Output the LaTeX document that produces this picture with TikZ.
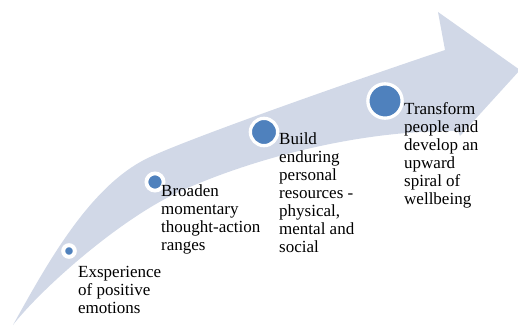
\documentclass[tikz,border=0pt]{standalone}
\usepackage{fontspec}
\setmainfont{Liberation Serif}
\definecolor{bandc}{HTML}{D1D8E7}
\definecolor{dotc}{HTML}{4F81BD}
\begin{document}
\begin{tikzpicture}[x=1pt,y=-1pt,
  dot/.style={circle,fill=dotc,draw=white,inner sep=0pt},
  lbl/.style={anchor=north west,inner sep=0pt,align=left,font=\fontsize{17}{18}\selectfont}]
\useasboundingbox (0,0) rectangle (518,326);
\fill[bandc] (13,325) .. controls (48,262) and (91,184) .. (150,157)
  .. controls (195,136) and (370,75) .. (445,50)
  -- (438,12) -- (520,70) -- (460,136) -- (458,131)
  .. controls (360,130) and (255,158) .. (183,190)
  .. controls (120,218) and (40,290) .. (13,325) -- cycle;
\node[dot,minimum size=11.6pt,line width=4pt] (c1) at (69,251) {};
\node[dot,minimum size=17.2pt,line width=3.8pt] (c2) at (155,182) {};
\node[dot,minimum size=27.3pt,line width=3.3pt] (c3) at (264,132) {};
\node[dot,minimum size=34.3pt,line width=3.3pt] (c4) at (385,101) {};
\node[lbl] (t1) at (78,266) {Exsperience\\of positive\\emotions};
\node[lbl] (t2) at (161,185) {Broaden\\momentary\\thought-action\\ranges};
\node[lbl] (t3) at (279,133) {Build\\enduring\\personal\\resources -\\physical,\\mental and\\social};
\node[lbl] (t4) at (404,102) {Transform\\people and\\develop an\\upward\\spiral of\\wellbeing};
\end{tikzpicture}
\end{document}
